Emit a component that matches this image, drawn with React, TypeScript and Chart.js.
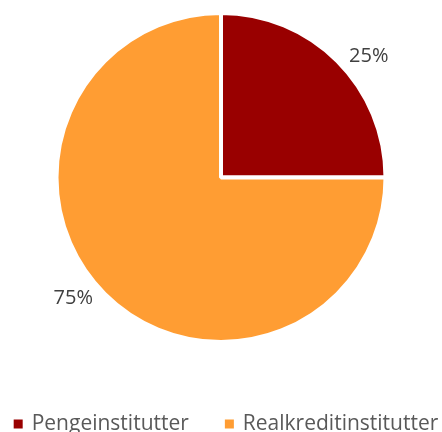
import React, { useEffect, useRef } from "react";
import { Chart, registerables } from "chart.js";

Chart.register(...registerables);

const categories = ["Pengeinstitutter", "Realkreditinstitutter"];
const values = [25, 75];
const colors = ["#990000", "#FF9D33"];

const FONT = '"Open Sans", "Liberation Sans", sans-serif';

const pctLabels = {
  id: "pctLabels",
  afterDatasetsDraw(chart: any) {
    const meta = chart.getDatasetMeta(0);
    const ctx = chart.ctx;
    const total = values.reduce((a, b) => a + b, 0);
    ctx.save();
    ctx.font = "20px " + FONT;
    ctx.fillStyle = "#404040";
    ctx.textAlign = "center";
    ctx.textBaseline = "middle";
    meta.data.forEach((arc: any, i: number) => {
      const p = arc.getProps(["x", "y", "startAngle", "endAngle", "outerRadius"], true);
      const mid = (p.startAngle + p.endAngle) / 2 + 0.1;
      const r = p.outerRadius * 1.16;
      const text = Math.round((values[i] / total) * 100) + "%";
      ctx.fillText(text, p.x + Math.cos(mid) * r, p.y + Math.sin(mid) * r);
    });
    ctx.restore();
  },
};

const bottomLegend = {
  id: "bottomLegend",
  afterDraw(chart: any) {
    const ctx = chart.ctx;
    ctx.save();
    ctx.font = "21px " + FONT;
    const box = 9;
    const boxGap = 9;
    const itemGap = 36;
    const widths = categories.map((c) => ctx.measureText(c).width);
    const total =
      widths.reduce((a, b) => a + b, 0) + categories.length * (box + boxGap) + itemGap * (categories.length - 1);
    let x = (chart.width - total) / 2 + 5;
    const y = 424;
    ctx.textBaseline = "middle";
    ctx.textAlign = "left";
    categories.forEach((c, i) => {
      ctx.fillStyle = colors[i];
      ctx.fillRect(x, y - box / 2, box, box);
      x += box + boxGap;
      ctx.fillStyle = "#595959";
      ctx.fillText(c, x, y);
      x += widths[i] + itemGap;
    });
    ctx.restore();
  },
};

export default function App() {
  const ref = useRef<HTMLCanvasElement>(null);
  useEffect(() => {
    if (!ref.current) return;
    const chart = new Chart(ref.current, {
      type: "pie",
      data: {
        labels: categories,
        datasets: [
          {
            data: values,
            backgroundColor: colors,
            borderColor: "#ffffff",
            borderWidth: 4,
          },
        ],
      },
      options: {
        animation: false,
        responsive: false,
        maintainAspectRatio: false,
        layout: { padding: { top: 11, bottom: 88, left: 0, right: 0 } },
        plugins: {
          tooltip: { enabled: false },
          legend: { display: false },
        },
      },
      plugins: [pctLabels, bottomLegend],
    });
    return () => chart.destroy();
  }, []);
  return (
    <div style={{ position: "fixed", left: 0, top: 0, width: 442, height: 432, background: "#fff" }}>
      <canvas ref={ref} width={442} height={432} style={{ width: 442, height: 432 }} />
    </div>
  );
}
